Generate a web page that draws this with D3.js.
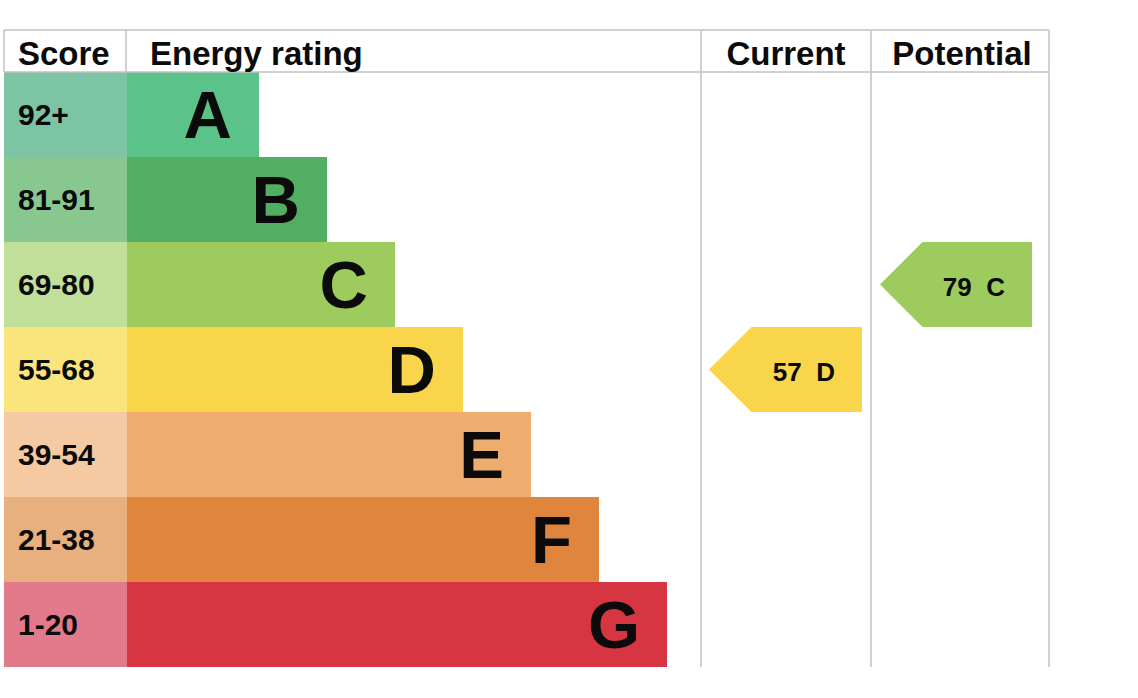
<!DOCTYPE html>
<html>
<head>
<meta charset="utf-8">
<script src="https://cdn.jsdelivr.net/npm/d3@7"></script>
<style>
  body { margin: 0; background: #fff; }
  svg { display: block; }
  text { font-family: "Liberation Sans", Arial, Helvetica, sans-serif; font-weight: bold; fill: #0b0b0b; }
</style>
</head>
<body>
<div id="area"></div>
<script>
// chart data
var bands = ['A', 'B', 'C', 'D', 'E', 'F', 'G'];
var scoreLabels = ['92+', '81-91', '69-80', '55-68', '39-54', '21-38', '1-20'];
var bandColors = ['#5bc389', '#51ae62', '#9dcb5d', '#f8d54a', '#eeac6f', '#e0853e', '#d63641'];
var scoreColors = ['#7dc4a5', '#88c890', '#c0e09a', '#fae57c', '#f5c9a2', '#e9b07f', '#e27a8b'];
var headers = ['Score', 'Energy rating', 'Current', 'Potential'];
var currentScore = 57, currentBand = 'D';
var potentialScore = 79, potentialBand = 'C';

var width = 1138,
    height = 698;

var top_y = 30,
    head_y = 72,
    bottom_y = 667,
    left_x = 4,
    score_x = 127,
    current_x = 701,
    potential_x = 871,
    right_x = 1049,
    grid_color = '#c2c2c2';

var svg = d3.select('#area').append('svg')
    .attr('width', width)
    .attr('height', height);

var y = d3.scaleBand().domain(bands).range([head_y, bottom_y]);
// bar end grows one step per band
var barEnd = d3.scaleLinear().domain([0, bands.length - 1]).range([259, 667]);

// score cells
svg.selectAll('rect.score').data(bands).enter().append('rect')
    .attr('class', 'score')
    .attr('x', left_x)
    .attr('y', function(d) { return y(d); })
    .attr('width', score_x - left_x)
    .attr('height', y.bandwidth())
    .attr('fill', function(d, i) { return scoreColors[i]; });

// rating bars
svg.selectAll('rect.bar').data(bands).enter().append('rect')
    .attr('class', 'bar')
    .attr('x', score_x)
    .attr('y', function(d) { return y(d); })
    .attr('width', function(d, i) { return barEnd(i) - score_x; })
    .attr('height', y.bandwidth())
    .attr('fill', function(d, i) { return bandColors[i]; });

svg.selectAll('text.score').data(scoreLabels).enter().append('text')
    .attr('class', 'score')
    .attr('x', 18)
    .attr('y', function(d, i) { return y(bands[i]) + y.bandwidth() / 2 + 10; })
    .attr('font-size', '30px')
    .text(function(d) { return d; });

svg.selectAll('text.band').data(bands).enter().append('text')
    .attr('class', 'band')
    .attr('x', function(d, i) { return barEnd(i) - 27; })
    .attr('y', function(d) { return y(d) + y.bandwidth() / 2 + 23; })
    .attr('text-anchor', 'end')
    .attr('font-size', '67px')
    .text(function(d) { return d; });

// grid lines
var grid = svg.append('g').attr('stroke', grid_color).attr('stroke-width', 1.5);
grid.append('line').attr('x1', left_x).attr('x2', right_x).attr('y1', top_y).attr('y2', top_y);
grid.append('line').attr('x1', left_x).attr('x2', right_x).attr('y1', head_y).attr('y2', head_y);
grid.append('line').attr('x1', left_x).attr('x2', left_x).attr('y1', top_y).attr('y2', head_y);
grid.append('line').attr('x1', score_x - 1).attr('x2', score_x - 1).attr('y1', top_y).attr('y2', head_y);
[current_x, potential_x, right_x].forEach(function(x) {
  grid.append('line').attr('x1', x).attr('x2', x).attr('y1', top_y).attr('y2', bottom_y);
});

// headers
var header_x = [18, 150, (current_x + potential_x) / 2, (potential_x + right_x) / 2 + 2];
headers.forEach(function(h, i) {
  svg.append('text')
      .attr('x', header_x[i])
      .attr('y', 65)
      .attr('text-anchor', i < 2 ? 'start' : 'middle')
      .attr('font-size', '33px')
      .text(h);
});

// arrow markers
function drawArrow(x0, x1, band, score) {
  var i = bands.indexOf(band);
  var t = y(band), b = t + y.bandwidth(), h = y.bandwidth() / 2;
  svg.append('path')
      .attr('d', 'M' + x0 + ',' + (t + h) + 'L' + (x0 + h) + ',' + t + 'L' + x1 + ',' + t +
                 'L' + x1 + ',' + b + 'L' + (x0 + h) + ',' + b + 'Z')
      .attr('fill', bandColors[i]);
  svg.append('text')
      .attr('x', x1 - 27)
      .attr('y', t + h + 11)
      .attr('text-anchor', 'end')
      .attr('font-size', '26px')
      .attr('xml:space', 'preserve')
      .style('white-space', 'pre')
      .text(score + '  ' + band);
}

drawArrow(current_x + 8, potential_x - 9, currentBand, currentScore);
drawArrow(potential_x + 9, right_x - 17, potentialBand, potentialScore);
</script>
</body>
</html>
